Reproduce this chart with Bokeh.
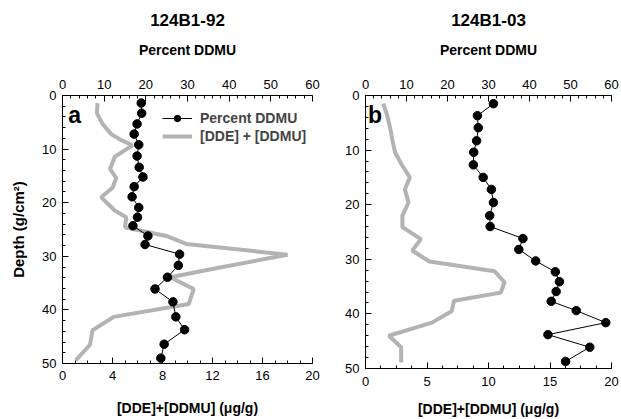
from bokeh.plotting import figure
from bokeh.layouts import row
from bokeh.models import Range1d, LinearAxis, SingleIntervalTicker, Legend, LegendItem, Label
from bokeh.embed import file_html
from bokeh.resources import INLINE

# Panel a: core 124B1-92
a_pct_depth = [1.4, 3.3, 5.3, 7.2, 9.2, 11.3, 13.4, 15.2, 17.0, 18.9, 20.9, 22.7,
               24.3, 26.2, 27.8, 29.6, 31.7, 33.9, 36.1, 38.5, 41.3, 43.7, 46.4, 49.0]
a_pct = [18.9, 19.0, 17.9, 17.2, 18.3, 17.9, 18.4, 19.3, 17.2, 16.7, 18.3, 18.0,
         16.9, 20.5, 19.8, 28.1, 27.8, 25.2, 22.2, 26.5, 27.2, 29.3, 24.4, 23.6]
a_conc_depth = [1.4, 3.3, 5.3, 7.2, 8.2, 9.3, 11.4, 13.7, 15.4, 17.2, 19.0, 21.5, 22.7,
                24.6, 25.2, 26.2, 27.7, 29.7, 32.1, 33.9, 36.1, 38.9, 41.3, 43.8, 46.5, 49.4]
a_conc = [2.8, 2.75, 3.2, 3.9, 4.6, 5.6, 4.2, 3.8, 4.3, 4.0, 3.1, 4.2, 5.1,
          5.0, 6.2, 8.3, 9.9, 18.0, 12.6, 8.6, 10.5, 10.1, 4.1, 2.4, 2.2, 1.06]

# Panel b: core 124B1-03
b_pct_depth = [1.5, 3.7, 5.9, 8.3, 10.4, 12.7, 15.0, 17.2, 19.6, 22.0, 24.0, 26.2,
               28.2, 30.3, 32.3, 34.1, 35.9, 37.7, 39.4, 41.6, 43.8, 46.1, 48.7]
b_pct = [31.2, 27.3, 27.5, 27.1, 26.4, 26.3, 28.7, 30.7, 31.2, 30.3, 30.4, 38.4,
         37.4, 41.5, 46.3, 47.3, 46.5, 45.3, 51.4, 58.6, 44.5, 54.7, 48.8]
b_conc_depth = [1.5, 3.7, 5.9, 8.3, 10.4, 12.5, 15.0, 17.2, 19.6, 22.0, 24.1, 26.3,
                28.4, 30.4, 32.2, 34.2, 36.1, 37.6, 39.5, 41.6, 44.0, 46.1, 48.9]
b_conc = [1.44, 1.77, 2.0, 2.2, 2.4, 2.9, 3.6, 3.2, 3.5, 3.0, 3.0, 4.5,
          3.8, 5.2, 10.5, 11.3, 11.0, 7.2, 7.0, 5.4, 1.9, 2.9, 2.9]

titles = ["124B1-92", "124B1-03"]
panel_letters = ["a", "b"]
top_label = "Percent DDMU"
bottom_label = "[DDE]+[DDMU] (\u03bcg/g)"
depth_label = "Depth (g/cm\u00b2)"

FONT = "Liberation Sans"
GRAY = "#b3b3b3"


def style_axis(ax):
    ax.major_tick_in = 6
    ax.major_tick_out = 0
    ax.minor_tick_in = 3
    ax.minor_tick_out = 0
    ax.axis_line_color = "black"
    ax.major_tick_line_color = "black"
    ax.minor_tick_line_color = "black"
    ax.major_label_text_font = FONT
    ax.major_label_text_font_size = "13px"
    ax.major_label_text_color = "black"
    ax.axis_label_text_font = FONT
    ax.axis_label_text_font_style = "bold"
    ax.axis_label_text_font_size = "14px"
    ax.axis_label_text_color = "black"


def make_panel(title, letter, letter_x, pct_depth, pct, conc_depth, conc, bottom_interval,
               width, height, mbl, mbr, mbb, tick_standoff, label_standoff,
               show_ylabel, legend):
    p = figure(width=width, height=height, output_backend="svg", toolbar_location=None,
               x_range=Range1d(0, 20), y_range=Range1d(50, 0),
               min_border_left=mbl, min_border_right=mbr, min_border_top=95,
               min_border_bottom=mbb, outline_line_color=None, frame_align=False)
    p.extra_x_ranges = {"pct": Range1d(0, 60)}
    p.grid.visible = False

    t = p.title
    t.text = title
    t.text_font = FONT
    t.text_font_size = "17px"
    t.text_font_style = "bold"
    t.text_color = "black"
    t.align = "center"
    t.standoff = 17

    bottom = p.below[0]
    left = p.left[0]

    top = LinearAxis(x_range_name="pct", ticker=SingleIntervalTicker(interval=10, num_minor_ticks=5),
                     axis_label=top_label)
    p.add_layout(top, "above")

    bottom.ticker = SingleIntervalTicker(interval=bottom_interval, num_minor_ticks=4)
    bottom.axis_label = bottom_label
    left.ticker = SingleIntervalTicker(interval=10, num_minor_ticks=5)
    if show_ylabel:
        left.axis_label = depth_label

    for ax in (top, bottom, left):
        style_axis(ax)
    top.major_label_standoff = 7
    top.axis_label_standoff = 19
    bottom.major_label_standoff = tick_standoff
    bottom.axis_label_standoff = label_standoff
    left.major_label_standoff = 6
    left.axis_label_standoff = 12
    left.axis_label_text_font_size = "15px"

    gl = p.line(conc, conc_depth, line_color=GRAY, line_width=4)
    bl = p.line(pct, pct_depth, x_range_name="pct", line_color="black", line_width=1)
    bs = p.scatter(pct, pct_depth, x_range_name="pct", size=8.5, fill_color="black",
                   line_color="black")

    p.add_layout(Label(x=letter_x, y=3.6, text=letter,
                       text_font=FONT, text_font_style="bold", text_font_size="23px",
                       text_baseline="alphabetic", text_color="black"))

    if legend:
        lg = Legend(items=[LegendItem(label="Percent DDMU", renderers=[bl, bs]),
                           LegendItem(label="[DDE] + [DDMU]", renderers=[gl])],
                    location=(100, 219), padding=0, spacing=2, glyph_width=30,
                    glyph_height=16, label_height=16, label_standoff=8,
                    label_text_font=FONT, label_text_font_style="bold",
                    label_text_font_size="14px", border_line_color=None,
                    background_fill_alpha=0, margin=0)
        p.add_layout(lg, "center")
    return p


pa = make_panel(titles[0], panel_letters[0], 0.45, a_pct_depth, a_pct, a_conc_depth, a_conc, 4,
                width=322, height=419, mbl=62, mbr=10, mbb=56, tick_standoff=7,
                label_standoff=17, show_ylabel=True, legend=True)
pb = make_panel(titles[1], panel_letters[1], 0.2, b_pct_depth, b_pct, b_conc_depth, b_conc, 5,
                width=299, height=419, mbl=43, mbr=10, mbb=51, tick_standoff=8,
                label_standoff=12, show_ylabel=False, legend=False)

layout = row(pa, pb)
open("out.html", "w").write(file_html(layout, INLINE))
